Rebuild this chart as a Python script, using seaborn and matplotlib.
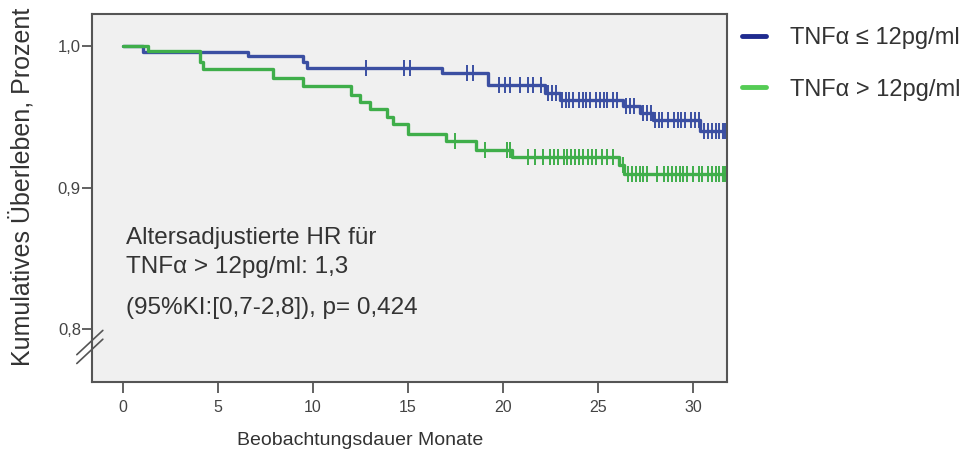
import numpy as np
import pandas as pd
import matplotlib
matplotlib.use("Agg")
import matplotlib.pyplot as plt
from matplotlib.lines import Line2D
import seaborn as sns

# Kaplan-Meier step points (months, cumulative survival)
low_times = [0, 1.05, 6.6, 9.5, 9.7, 16.8, 19.2, 22.2, 23.0, 26.3, 27.2, 27.9, 30.4, 31.8]
low_surv = [1.0, 0.996, 0.993, 0.989, 0.985, 0.981, 0.973, 0.967, 0.962, 0.958, 0.953, 0.948, 0.940, 0.940]

high_times = [0, 1.3, 4.05, 4.2, 7.9, 9.5, 12.0, 12.5, 13.0, 13.9, 14.2, 15.0, 17.0, 18.6, 20.5, 26.1, 26.4, 31.8]
high_surv = [1.0, 0.997, 0.989, 0.984, 0.978, 0.972, 0.966, 0.961, 0.956, 0.950, 0.945, 0.938, 0.933, 0.927, 0.922, 0.916, 0.910, 0.910]

# Censored observations (months)
low_censor = [12.8, 14.8, 15.1, 18.1, 18.4, 19.8, 20.1, 20.4, 20.9, 21.3, 21.6, 22.0, 22.4, 22.6,
              22.8, 23.1, 23.3, 23.5, 23.7, 24.0, 24.2, 24.4, 24.6, 24.9, 25.1, 25.3, 25.5, 25.8,
              26.0, 26.5, 26.7, 26.9, 27.4, 27.6, 27.8, 28.0, 28.2, 28.4, 28.7, 29.0, 29.2, 29.4,
              29.6, 29.9, 30.1, 30.3, 30.6, 30.8, 31.0, 31.2, 31.4, 31.6, 31.7]
high_censor = [17.5, 19.05, 20.2, 20.4, 21.3, 21.7, 22.1, 22.5, 22.7, 22.9, 23.2, 23.4, 23.6, 23.8,
               24.0, 24.2, 24.5, 24.7, 24.9, 25.2, 25.5, 25.8, 26.3, 26.6, 26.8, 27.0, 27.2, 27.4,
               27.6, 28.1, 28.5, 28.7, 28.9, 29.1, 29.3, 29.5, 29.7, 30.0, 30.3, 30.5, 30.8,
               31.0, 31.2, 31.4, 31.6, 31.7]

group_labels = ["TNF\u03b1 \u2264 12pg/ml", "TNF\u03b1 > 12pg/ml"]
x_ticks = [0, 5, 10, 15, 20, 25, 30]
y_ticks = [0.8, 0.9, 1.0]
y_ticklabels = ["0,8", "0,9", "1,0"]

curve_colors = ["#3b4fa2", "#3fae4a"]
legend_colors = ["#1f2b8f", "#55cc55"]

sns.set_theme(style="white")
plt.rcParams["font.family"] = ["Liberation Sans", "DejaVu Sans"]

fig = plt.figure(figsize=(9.73, 4.59), dpi=100)
ax = fig.add_axes([0.0946, 0.168, 0.6526, 0.8015])
ax.set_facecolor("#f0f0f0")


def censor_levels(times, surv, cens):
    idx = np.searchsorted(np.asarray(times), np.asarray(cens), side="right") - 1
    return np.asarray(surv)[idx]


groups = [
    (low_times, low_surv, low_censor),
    (high_times, high_surv, high_censor),
]

for (t, s, c), color, label in zip(groups, curve_colors, group_labels):
    df = pd.DataFrame({"Monate": t, "Survival": s})
    sns.lineplot(data=df, x="Monate", y="Survival", ax=ax, estimator=None, sort=False,
                 drawstyle="steps-post", color=color, linewidth=2.4, legend=False)
    cdf = pd.DataFrame({"Monate": c, "Survival": censor_levels(t, s, c)})
    sns.scatterplot(data=cdf, x="Monate", y="Survival", ax=ax, marker="|", s=120,
                    color=color, linewidth=1.4, legend=False, zorder=3)

ax.set_xlim(-1.63, 31.8)
ax.set_ylim(0.7629, 1.0229)
ax.set_xticks(x_ticks)
ax.set_yticks(y_ticks)
ax.set_yticklabels(y_ticklabels)

for sp in ax.spines.values():
    sp.set_visible(True)
    sp.set_color("#555555")
    sp.set_linewidth(1.5)

ax.tick_params(axis="x", direction="out", length=8, width=1.3, color="#555555",
               labelsize=11.5, labelcolor="#444444", pad=5, bottom=True)
ax.tick_params(axis="y", direction="out", length=7, width=1.3, color="#555555",
               labelsize=12, labelcolor="#444444", pad=1, left=True)

ax.set_xlabel("Beobachtungsdauer Monate", fontsize=14, color="#333333")
ax.set_ylabel("Kumulatives \u00dcberleben, Prozent", fontsize=18, color="#333333")
ax.xaxis.set_label_coords(0.422, -0.137)
ax.yaxis.set_label_coords(-0.09, 0.53)

# Axis break marks on the y axis
for dy in (0.0, 0.024):
    ax.add_line(Line2D([-0.024, 0.017], [0.050 + dy, 0.116 + dy], transform=ax.transAxes,
                       color="#555555", linewidth=1.2, clip_on=False))

# Hazard ratio annotation
txt_kw = dict(transform=ax.transAxes, fontsize=17.5, color="#333333", ha="left", va="center")
ax.text(0.053, 0.392, "Altersadjustierte HR f\u00fcr", **txt_kw)
ax.text(0.053, 0.311, "TNF\u03b1 > 12pg/ml: 1,3", **txt_kw)
ax.text(0.053, 0.200, "(95%KI:[0,7-2,8]), p= 0,424", **txt_kw)

handles = [Line2D([], [], color=c, linewidth=3.5) for c in legend_colors]
ax.legend(handles, group_labels, loc="upper left", bbox_to_anchor=(1.0236, 0.9645),
          borderaxespad=0, borderpad=0, frameon=False, fontsize=17, handlelength=1.0,
          handletextpad=1.05, labelspacing=1.25, labelcolor="#333333")

fig.savefig("out.png", dpi=100)
